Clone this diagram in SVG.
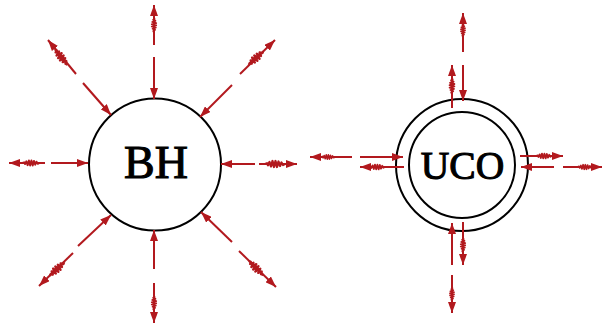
<svg xmlns="http://www.w3.org/2000/svg" xmlns:xlink="http://www.w3.org/1999/xlink" width="603" height="326" viewBox="0 0 603 326">
<style>
.c{fill:#fff;stroke:#000;stroke-width:2}
.t{font-family:"Liberation Serif","Times New Roman",serif;fill:#000;stroke:#000;stroke-width:1.1;text-anchor:middle}
.a{stroke:#b2191e;stroke-width:2;fill:none;marker-end:url(#ah)}
.s{stroke:#b2191e;stroke-width:2.3;fill:none;stroke-linejoin:round}
</style>
<defs>
<marker id="ah" viewBox="0 0 11 8" refX="11" refY="4" markerWidth="11" markerHeight="8" markerUnits="userSpaceOnUse" orient="auto"><path d="M0,0 L11,4 L0,8 z" fill="#b2191e"/></marker>
<path id="sq" d="M-10,0 L-8,-0.8 L-7,1.2 L-5.5,-2 L-4,2.5 L-2.5,-3 L-1,3 L0.5,-3 L2,3 L3.5,-2.5 L5,2 L6.5,-1.5 L8,1 L10,0"/>
</defs>
<rect width="603" height="326" fill="#fff"/>
<g id="bh">
<circle class="c" cx="155" cy="164.5" r="66"/>
<text class="t" x="156" y="178" font-size="46">BH</text>
</g>
<g id="uco">
<circle class="c" cx="462" cy="165" r="66"/>
<circle class="c" cx="462" cy="165" r="53"/>
<text class="t" x="462.5" y="178.5" font-size="39.5">UCO</text>
</g>
<g id="connectors">
<line class="a" x1="154" y1="57" x2="154" y2="99"/>
<line class="a" x1="232" y1="85" x2="200" y2="117"/>
<line class="a" x1="255" y1="164" x2="221" y2="164"/>
<line class="a" x1="232" y1="242" x2="201" y2="212"/>
<line class="a" x1="154" y1="269" x2="154" y2="230"/>
<line class="a" x1="78" y1="246" x2="111" y2="215"/>
<line class="a" x1="51" y1="163" x2="88" y2="163"/>
<line class="a" x1="83" y1="83" x2="111" y2="115"/>
<line class="a" x1="154" y1="45" x2="154" y2="5"/>
<line class="a" x1="240" y1="74" x2="275" y2="40"/>
<line class="a" x1="259" y1="164" x2="297" y2="164"/>
<line class="a" x1="239" y1="251" x2="276" y2="287"/>
<line class="a" x1="154" y1="283" x2="154" y2="323"/>
<line class="a" x1="73" y1="253" x2="39" y2="286"/>
<line class="a" x1="45" y1="163" x2="9" y2="163"/>
<line class="a" x1="76" y1="74" x2="48" y2="40"/>
<g class="s">
<use xlink:href="#sq" transform="translate(154,25) rotate(90) scale(0.75)"/>
<use xlink:href="#sq" transform="translate(256,58) rotate(-44)"/>
<use xlink:href="#sq" transform="translate(275,164)"/>
<use xlink:href="#sq" transform="translate(256,268) rotate(44)"/>
<use xlink:href="#sq" transform="translate(154,303) rotate(90) scale(0.75)"/>
<use xlink:href="#sq" transform="translate(57,269) rotate(-44)"/>
<use xlink:href="#sq" transform="translate(31,163) scale(0.85)"/>
<use xlink:href="#sq" transform="translate(61,57) rotate(50)"/>
</g>
<line class="a" x1="463" y1="65" x2="463" y2="101"/>
<line class="a" x1="463" y1="52" x2="463" y2="13"/>
<line class="a" x1="452" y1="108" x2="452" y2="65"/>
<line class="a" x1="360" y1="157" x2="403" y2="157"/>
<line class="a" x1="352" y1="157" x2="310" y2="157"/>
<line class="a" x1="404" y1="167" x2="360" y2="167"/>
<line class="a" x1="520" y1="156" x2="563" y2="156"/>
<line class="a" x1="554" y1="167" x2="521" y2="167"/>
<line class="a" x1="563" y1="167" x2="602" y2="167"/>
<line class="a" x1="452" y1="265" x2="452" y2="223"/>
<line class="a" x1="452" y1="275" x2="452" y2="313"/>
<line class="a" x1="463" y1="222" x2="463" y2="265"/>
<g class="s">
<use xlink:href="#sq" transform="translate(463,30) rotate(90) scale(0.7)"/>
<use xlink:href="#sq" transform="translate(452,86) rotate(90) scale(0.8)"/>
<use xlink:href="#sq" transform="translate(328,157) scale(0.7)"/>
<use xlink:href="#sq" transform="translate(377,167) scale(0.8)"/>
<use xlink:href="#sq" transform="translate(544,156) scale(0.8)"/>
<use xlink:href="#sq" transform="translate(585,167) scale(0.75)"/>
<use xlink:href="#sq" transform="translate(452,294) rotate(90) scale(0.7)"/>
<use xlink:href="#sq" transform="translate(463,245) rotate(90) scale(0.75)"/>
</g>
</g>
</svg>
